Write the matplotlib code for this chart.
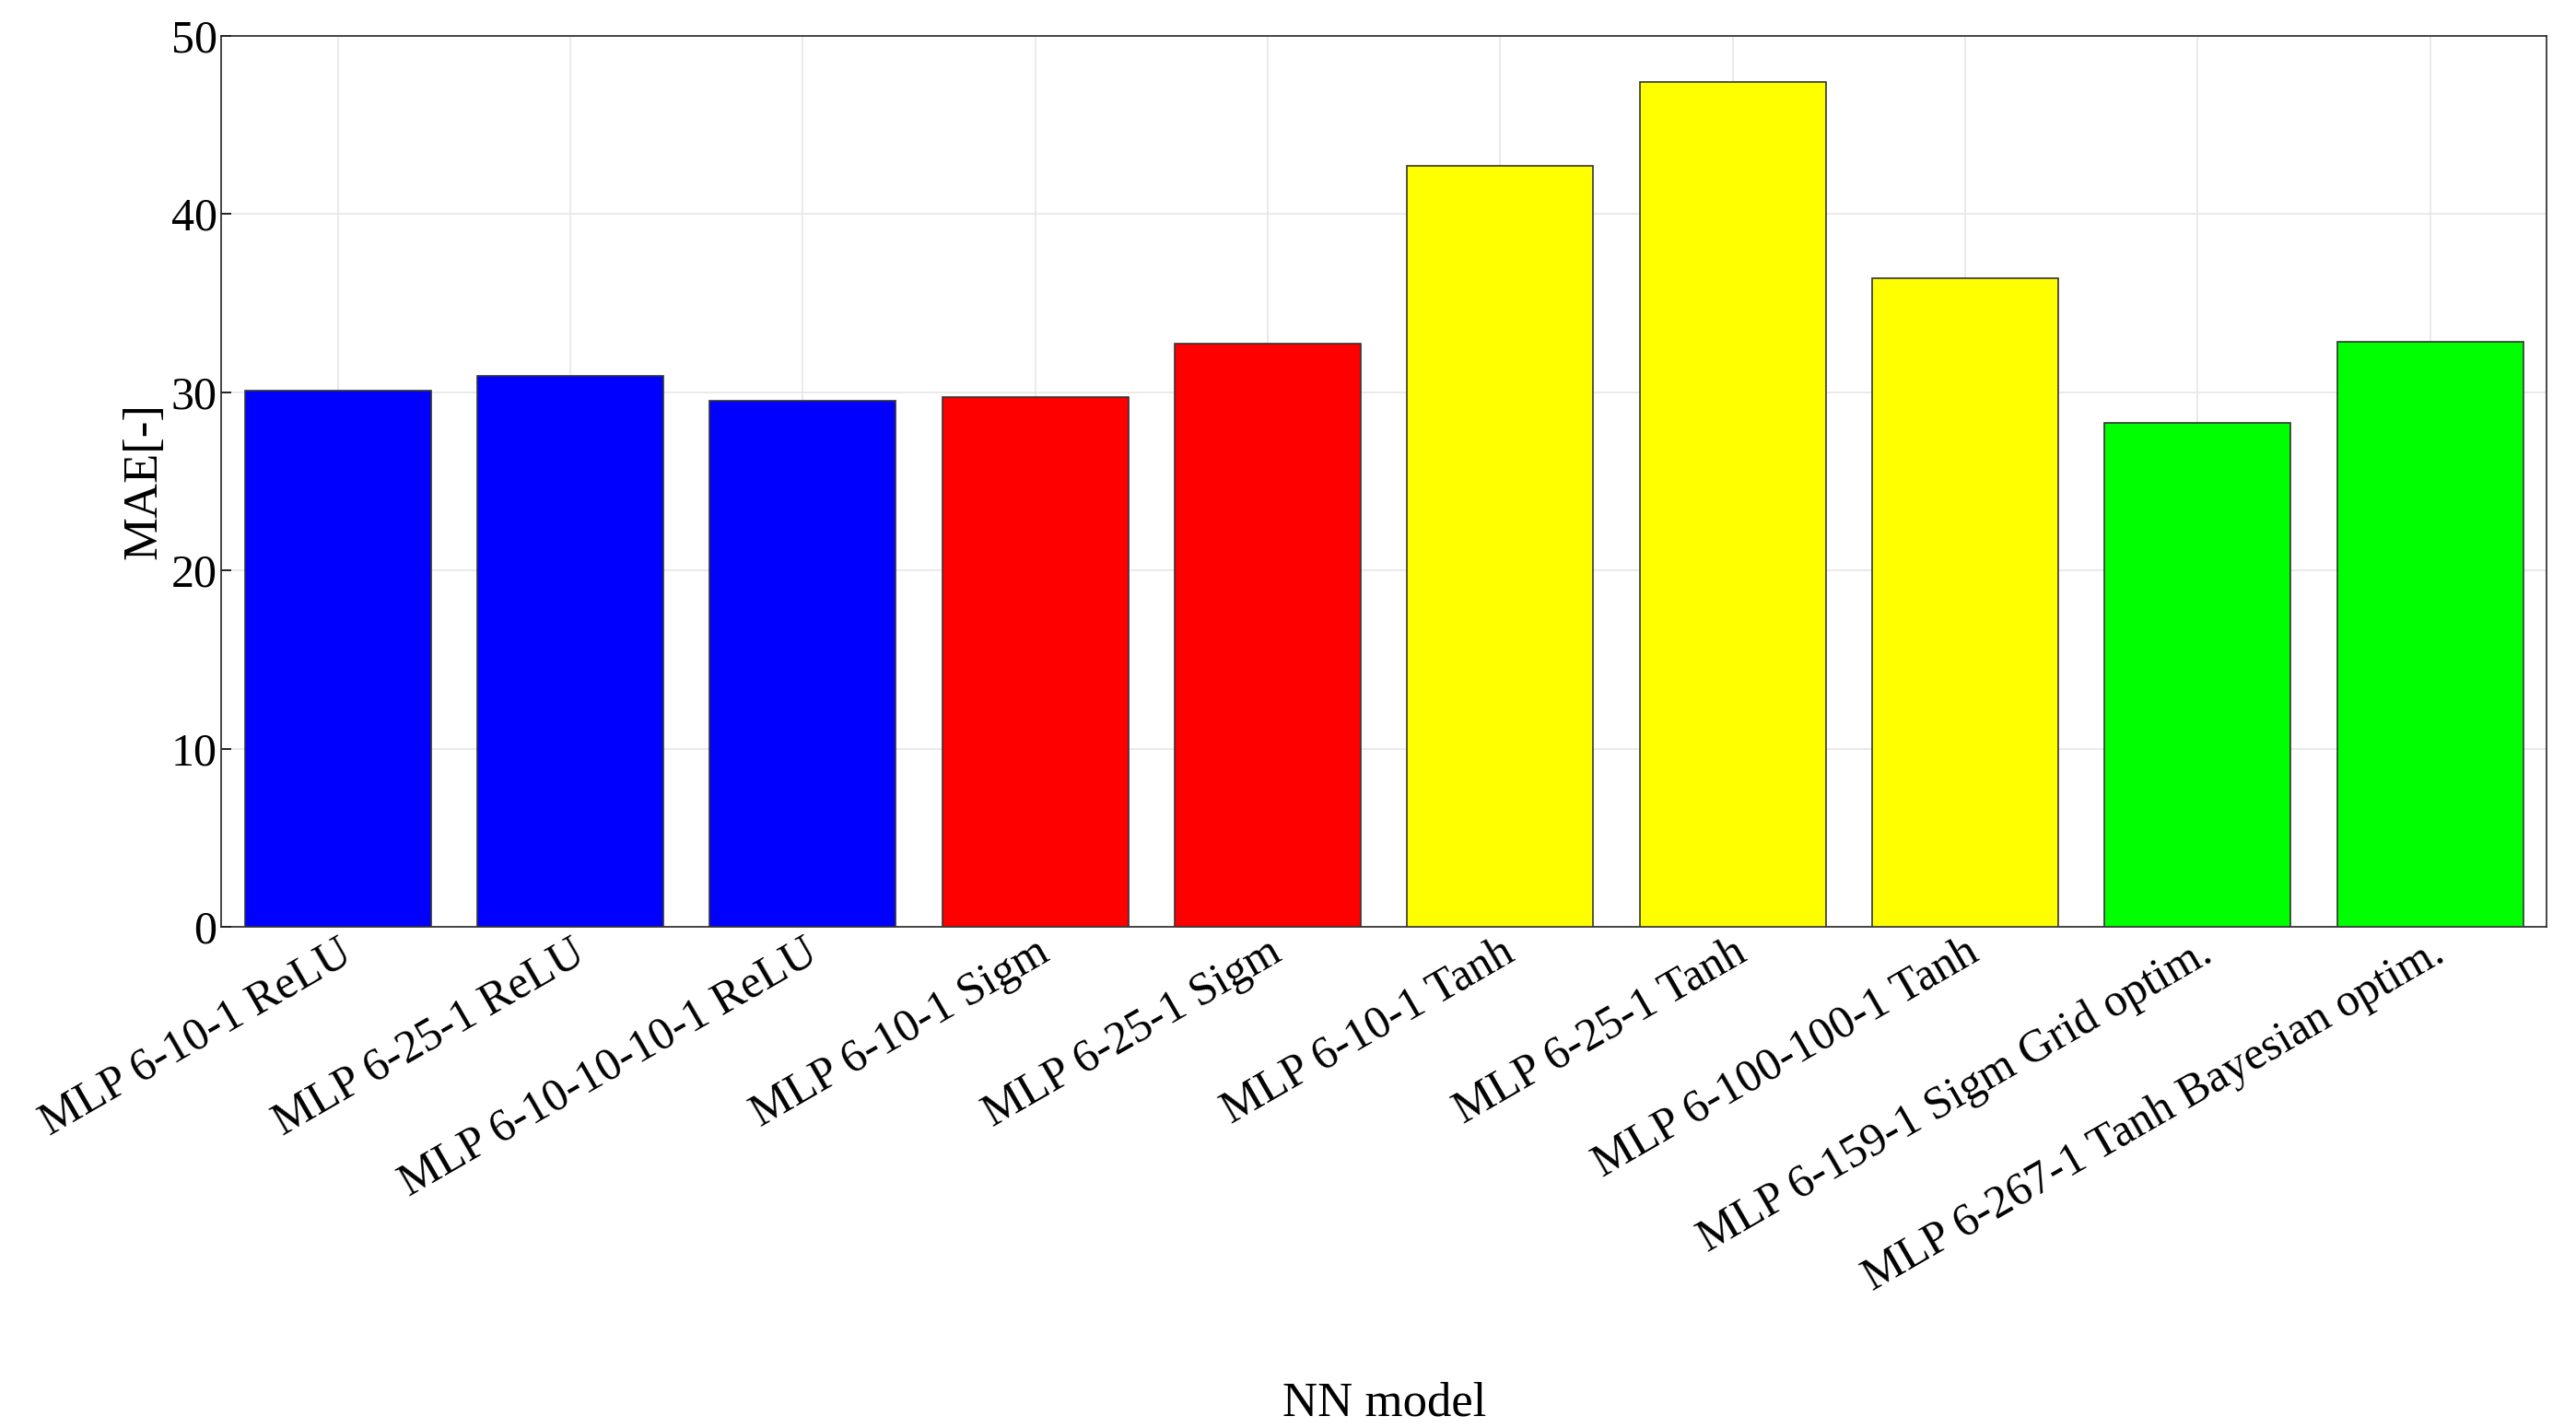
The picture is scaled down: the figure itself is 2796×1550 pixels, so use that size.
import matplotlib.pyplot as plt

models = ["MLP 6-10-1 ReLU", "MLP 6-25-1 ReLU", "MLP 6-10-10-10-1 ReLU",
          "MLP 6-10-1 Sigm", "MLP 6-25-1 Sigm", "MLP 6-10-1 Tanh",
          "MLP 6-25-1 Tanh", "MLP 6-100-100-1 Tanh",
          "MLP 6-159-1 Sigm Grid optim.", "MLP 6-267-1 Tanh Bayesian optim."]
mae = [30.1, 30.9, 29.5, 29.7, 32.7, 42.7, 47.4, 36.4, 28.3, 32.8]
colors = ["#0000ff"] * 3 + ["#ff0000"] * 2 + ["#ffff00"] * 3 + ["#00ff00"] * 2

plt.rcParams['font.family'] = ['Liberation Serif', 'DejaVu Serif']

fig = plt.figure(figsize=(27.96, 15.5), dpi=100)
ax = fig.add_axes([0.086, 0.351, 0.9025, 0.624])

ax.bar(range(len(mae)), mae, width=0.8, color=colors, edgecolor="#333333",
       linewidth=1.2, zorder=3)
ax.set_xlim(-0.5, len(mae) - 0.5)
ax.set_ylim(0, 50)
ax.set_yticks(range(0, 51, 10))
ax.set_xticks(range(len(mae)))
ax.set_xticklabels(models, rotation=30, ha='right', rotation_mode='anchor')
ax.tick_params(labelsize=36, direction='in', length=8, width=1.2)
ax.grid(True, color="#e6e6e6", linewidth=1.2, zorder=0)
for s in ax.spines.values():
    s.set_linewidth(1.2)
    s.set_color("#262626")
ax.set_ylabel("MAE[-]", fontsize=38)
ax.set_xlabel("NN model", fontsize=38, labelpad=-40)
ax.xaxis.set_label_coords(0.5, -0.51)

plt.savefig("out.png")
plt.close()
